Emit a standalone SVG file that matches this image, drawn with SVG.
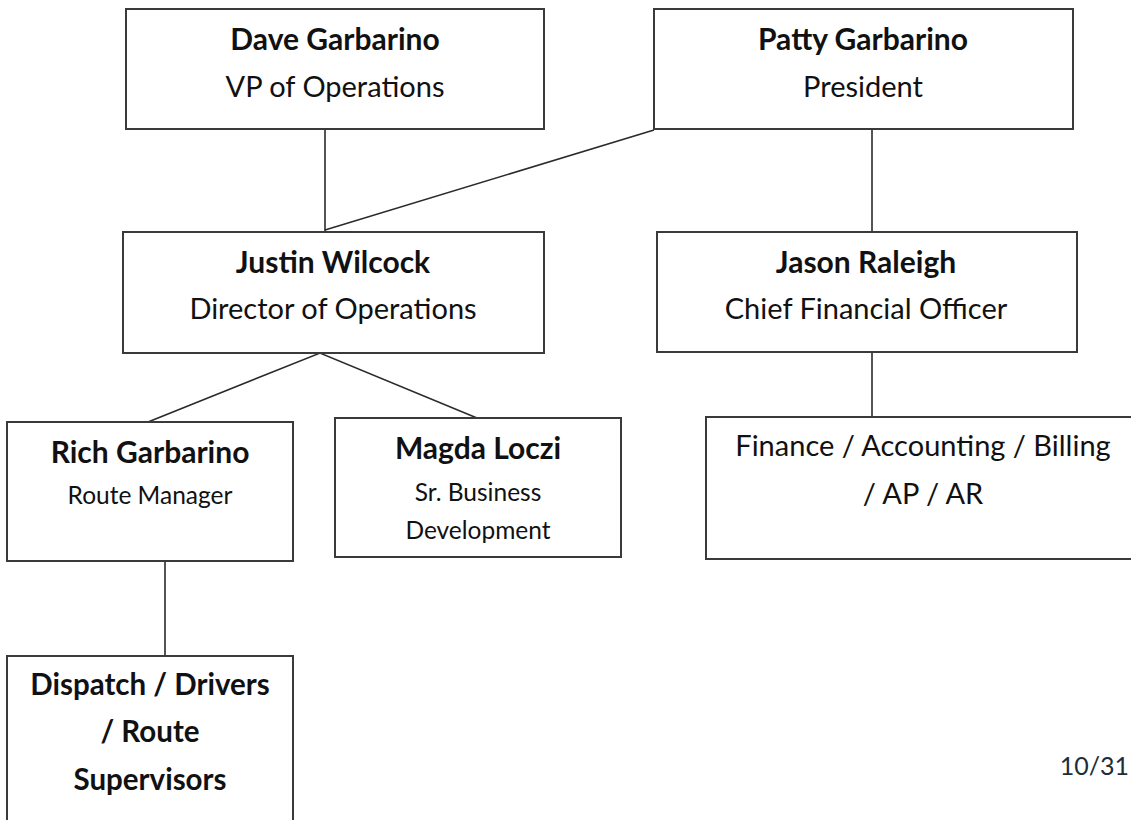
<svg xmlns="http://www.w3.org/2000/svg" width="1131" height="820" viewBox="0 0 1131 820">
<style>
.box{fill:#fff;stroke:#3a3a3a;stroke-width:2}
.ln{stroke:#2a2a2a;stroke-width:1.6;fill:none}
text{font-family:Lato,"Open Sans","Liberation Sans",sans-serif;fill:#111;text-anchor:middle}
.nm{font-weight:bold;font-size:30px}
.tt{font-size:29px}
.sm{font-size:24.5px}
.md{font-size:29.5px}
.dt{font-size:25px;fill:#1e2d38;text-anchor:end}
</style>
<rect width="1131" height="820" fill="#fff"/>
<g id="connectors">
<line class="ln" x1="325" y1="129" x2="325" y2="232"/>
<line class="ln" x1="654" y1="130" x2="325" y2="230"/>
<line class="ln" x1="872" y1="129" x2="872" y2="232"/>
<polyline class="ln" points="148,422 320,353 477,418"/>
<line class="ln" x1="872" y1="352" x2="872" y2="417"/>
<line class="ln" x1="165" y1="561" x2="165" y2="656"/>
</g>
<g id="dave">
<rect class="box" x="126" y="9" width="418" height="120"/>
<text class="nm" x="335" y="50">Dave Garbarino</text>
<text class="tt" x="335" y="97">VP of Operations</text>
</g>
<g id="patty">
<rect class="box" x="654" y="9" width="419" height="120"/>
<text class="nm" x="863" y="50">Patty Garbarino</text>
<text class="tt" x="863" y="97">President</text>
</g>
<g id="justin">
<rect class="box" x="123" y="232" width="421" height="121"/>
<text class="nm" x="333" y="273">Justin Wilcock</text>
<text class="tt" x="333" y="319">Director of Operations</text>
</g>
<g id="jason">
<rect class="box" x="657" y="232" width="420" height="120"/>
<text class="nm" x="866" y="273">Jason Raleigh</text>
<text class="tt" x="866" y="319">Chief Financial Officer</text>
</g>
<g id="rich">
<rect class="box" x="7" y="422" width="286" height="139"/>
<text class="nm" x="150" y="463">Rich Garbarino</text>
<text class="sm" x="150" y="504">Route Manager</text>
</g>
<g id="magda">
<rect class="box" x="335" y="418" width="286" height="139"/>
<text class="nm" x="478" y="459">Magda Loczi</text>
<text class="sm" x="478" y="501">Sr. Business</text>
<text class="sm" x="478" y="539">Development</text>
</g>
<g id="finance">
<rect class="box" x="706" y="417" width="434" height="142"/>
<text class="tt" x="923" y="456">Finance / Accounting / Billing</text>
<text class="tt" x="923" y="504">/ AP / AR</text>
</g>
<g id="dispatch">
<rect class="box" x="7" y="656" width="286" height="180"/>
<text class="nm md" x="150" y="695">Dispatch / Drivers</text>
<text class="nm md" x="150" y="742">/ Route</text>
<text class="nm md" x="150" y="790">Supervisors</text>
</g>
<text class="dt" x="1129" y="775">10/31</text>
</svg>
